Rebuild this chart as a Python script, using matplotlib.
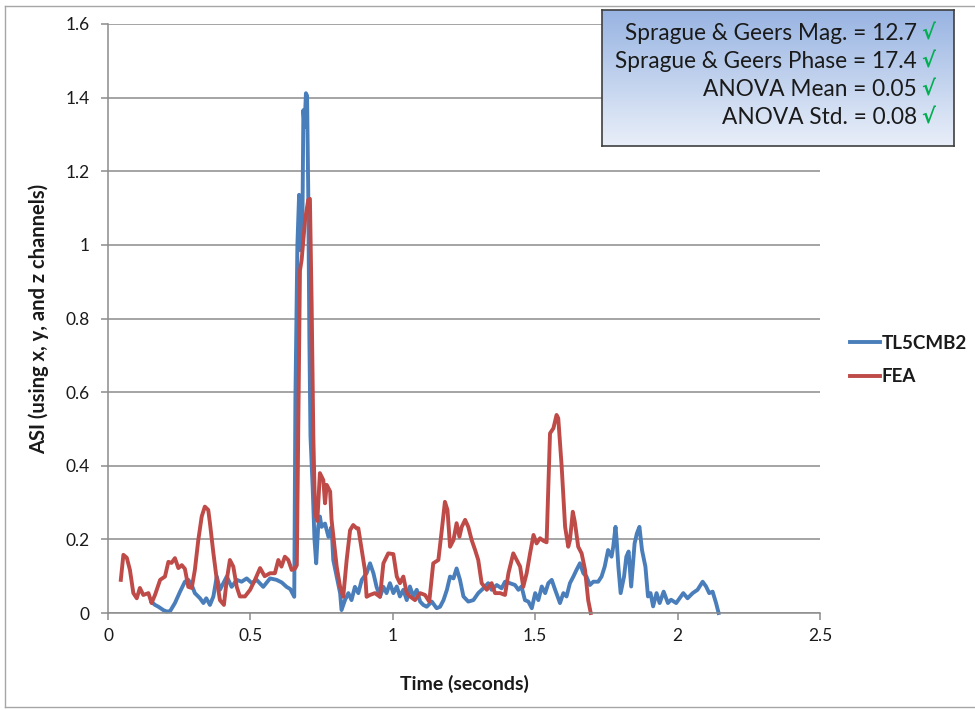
import numpy as np
import matplotlib
matplotlib.use("Agg")
import matplotlib.pyplot as plt
from matplotlib.lines import Line2D

plt.rcParams['font.family'] = ['Lato', 'DejaVu Sans']

# Test signal (TL5CMB2) – time in seconds, ASI value
tl5_t = [0.153, 0.165, 0.177, 0.194, 0.206, 0.218, 0.235, 0.253, 0.27, 0.282, 0.294, 0.305,
         0.323, 0.335, 0.345, 0.358, 0.37, 0.382, 0.393, 0.405, 0.417, 0.434, 0.452, 0.469,
         0.487, 0.505, 0.522, 0.545, 0.569, 0.592, 0.61, 0.627, 0.64, 0.654, 0.658, 0.665,
         0.671, 0.677, 0.682, 0.686, 0.69, 0.695, 0.699, 0.703, 0.707, 0.711, 0.719, 0.725,
         0.731, 0.738, 0.744, 0.75, 0.762, 0.774, 0.785, 0.791, 0.803, 0.815, 0.82, 0.832,
         0.844, 0.855, 0.867, 0.879, 0.891, 0.908, 0.92, 0.932, 0.943, 0.955, 0.967, 0.978,
         0.99, 1.002, 1.014, 1.025, 1.037, 1.049, 1.06, 1.072, 1.084, 1.096, 1.107, 1.119,
         1.137, 1.154, 1.166, 1.178, 1.19, 1.201, 1.213, 1.224, 1.236, 1.248, 1.265, 1.283,
         1.3, 1.318, 1.335, 1.347, 1.365, 1.382, 1.394, 1.411, 1.429, 1.441, 1.452, 1.464,
         1.476, 1.488, 1.5, 1.511, 1.523, 1.535, 1.546, 1.558, 1.57, 1.587, 1.599, 1.61,
         1.622, 1.634, 1.645, 1.657, 1.669, 1.68, 1.692, 1.704, 1.721, 1.733, 1.744, 1.756,
         1.768, 1.774, 1.782, 1.786, 1.792, 1.8, 1.812, 1.82, 1.828, 1.837, 1.849, 1.857,
         1.866, 1.875, 1.887, 1.896, 1.905, 1.914, 1.926, 1.937, 1.951, 1.966, 1.977, 1.995,
         2.007, 2.02, 2.035, 2.053, 2.07, 2.088, 2.1, 2.111, 2.123, 2.135, 2.144]
tl5_v = [0.03, 0.022, 0.017, 0.008, 0.004, 0.005, 0.027, 0.058, 0.085, 0.09, 0.076, 0.054,
         0.04, 0.027, 0.04, 0.022, 0.045, 0.099, 0.063, 0.081, 0.099, 0.071, 0.09, 0.085,
         0.094, 0.081, 0.09, 0.071, 0.094, 0.09, 0.083, 0.071, 0.065, 0.044, 0.58, 1.0,
         1.136, 0.985, 1.0, 1.366, 1.32, 1.412, 1.405, 1.15, 0.75, 0.48, 0.334, 0.2,
         0.135, 0.234, 0.262, 0.234, 0.243, 0.207, 0.234, 0.144, 0.099, 0.054, 0.008, 0.035,
         0.054, 0.035, 0.071, 0.054, 0.09, 0.108, 0.135, 0.108, 0.071, 0.044, 0.071, 0.054,
         0.081, 0.054, 0.072, 0.045, 0.063, 0.035, 0.072, 0.045, 0.063, 0.031, 0.022, 0.017,
         0.031, 0.013, 0.017, 0.035, 0.063, 0.099, 0.094, 0.121, 0.09, 0.045, 0.031, 0.035,
         0.054, 0.067, 0.081, 0.063, 0.076, 0.067, 0.085, 0.081, 0.076, 0.063, 0.072, 0.035,
         0.031, 0.013, 0.054, 0.035, 0.072, 0.054, 0.081, 0.09, 0.063, 0.027, 0.054, 0.045,
         0.081, 0.099, 0.117, 0.135, 0.108, 0.099, 0.076, 0.085, 0.085, 0.099, 0.126, 0.171,
         0.153, 0.18, 0.234, 0.198, 0.126, 0.054, 0.099, 0.153, 0.167, 0.072, 0.189, 0.216,
         0.234, 0.171, 0.126, 0.045, 0.054, 0.018, 0.054, 0.027, 0.058, 0.027, 0.036, 0.027,
         0.04, 0.054, 0.04, 0.054, 0.063, 0.085, 0.072, 0.054, 0.058, 0.027, 0.0]

# Simulation (FEA)
fea_t = [0.045, 0.054, 0.066, 0.077, 0.089, 0.101, 0.112, 0.124, 0.142, 0.153, 0.165, 0.183,
         0.2, 0.212, 0.223, 0.235, 0.247, 0.259, 0.27, 0.282, 0.294, 0.305, 0.317, 0.329,
         0.34, 0.352, 0.358, 0.37, 0.382, 0.393, 0.407, 0.417, 0.428, 0.44, 0.452, 0.463,
         0.481, 0.499, 0.516, 0.534, 0.55, 0.569, 0.586, 0.598, 0.609, 0.621, 0.633, 0.645,
         0.657, 0.663, 0.674, 0.68, 0.692, 0.703, 0.709, 0.715, 0.721, 0.727, 0.735, 0.744,
         0.756, 0.762, 0.768, 0.78, 0.785, 0.803, 0.815, 0.826, 0.838, 0.85, 0.861, 0.873,
         0.879, 0.891, 0.902, 0.908, 0.92, 0.937, 0.955, 0.967, 0.984, 1.002, 1.014, 1.025,
         1.037, 1.049, 1.06, 1.078, 1.096, 1.113, 1.128, 1.142, 1.16, 1.172, 1.183, 1.192,
         1.201, 1.213, 1.224, 1.234, 1.242, 1.254, 1.265, 1.277, 1.289, 1.3, 1.312, 1.33,
         1.347, 1.359, 1.377, 1.394, 1.406, 1.423, 1.435, 1.447, 1.458, 1.47, 1.482, 1.494,
         1.505, 1.517, 1.529, 1.54, 1.552, 1.564, 1.575, 1.581, 1.593, 1.605, 1.616, 1.622,
         1.632, 1.639, 1.651, 1.663, 1.675, 1.686, 1.695]
fea_v = [0.09, 0.158, 0.15, 0.117, 0.054, 0.04, 0.068, 0.049, 0.054, 0.027, 0.049, 0.09,
         0.099, 0.139, 0.136, 0.149, 0.122, 0.13, 0.12, 0.071, 0.068, 0.117, 0.198, 0.262,
         0.289, 0.28, 0.244, 0.163, 0.09, 0.035, 0.022, 0.09, 0.144, 0.126, 0.071, 0.045,
         0.045, 0.063, 0.09, 0.122, 0.1, 0.108, 0.108, 0.144, 0.126, 0.153, 0.144, 0.117,
         0.121, 0.13, 0.93, 0.96, 1.068, 1.122, 1.125, 0.84, 0.479, 0.27, 0.25, 0.38,
         0.361, 0.298, 0.348, 0.33, 0.253, 0.126, 0.071, 0.044, 0.144, 0.225, 0.239, 0.23,
         0.23, 0.171, 0.117, 0.044, 0.049, 0.054, 0.044, 0.135, 0.162, 0.16, 0.099, 0.081,
         0.099, 0.054, 0.045, 0.035, 0.054, 0.049, 0.031, 0.135, 0.144, 0.225, 0.302, 0.28,
         0.18, 0.198, 0.244, 0.207, 0.234, 0.253, 0.234, 0.198, 0.171, 0.144, 0.081, 0.063,
         0.081, 0.054, 0.054, 0.049, 0.108, 0.162, 0.144, 0.126, 0.071, 0.108, 0.162, 0.212,
         0.189, 0.203, 0.196, 0.192, 0.488, 0.502, 0.538, 0.529, 0.397, 0.234, 0.18, 0.198,
         0.275, 0.248, 0.18, 0.162, 0.117, 0.035, 0.0]

series_names = ["TL5CMB2", "FEA"]
series_colors = ["#4a7ebb", "#be4b48"]

y_ticks = [0, 0.2, 0.4, 0.6, 0.8, 1.0, 1.2, 1.4, 1.6]
y_tick_labels = ["0", "0.2", "0.4", "0.6", "0.8", "1", "1.2", "1.4", "1.6"]
x_ticks = [0, 0.5, 1.0, 1.5, 2.0, 2.5]
x_tick_labels = ["0", "0.5", "1", "1.5", "2", "2.5"]

metric_lines = ["Sprague & Geers Mag. = 12.7",
                "Sprague & Geers Phase = 17.4",
                "ANOVA Mean = 0.05",
                "ANOVA Std. = 0.08"]

W, H = 975, 710
fig = plt.figure(figsize=(W / 100, H / 100), dpi=100)
fig.patch.set_facecolor("white")

# outer chart frame
frame_col = "#a6a6a6"
fig.add_artist(Line2D([5 / W, 1.0], [1 - 6 / H, 1 - 6 / H], color=frame_col, lw=1.0))
fig.add_artist(Line2D([5 / W, 5 / W], [1 - 6 / H, 1 - 707 / H], color=frame_col, lw=1.0))
fig.add_artist(Line2D([5 / W, 1.0], [1 - 707 / H, 1 - 707 / H], color=frame_col, lw=1.0))

ax = fig.add_axes([108 / W, 1 - 613 / H, (820 - 108) / W, (613 - 24) / H])
ax.set_xlim(0, 2.5)
ax.set_ylim(0, 1.6)

grid_col = "#8c8c8c"
ax.yaxis.grid(True, color=grid_col, lw=1.1)
ax.set_axisbelow(True)
for s in ["top", "right"]:
    ax.spines[s].set_visible(False)
for s in ["left", "bottom"]:
    ax.spines[s].set_color(grid_col)
    ax.spines[s].set_linewidth(1.1)

ax.set_yticks(y_ticks)
ax.set_yticklabels(y_tick_labels)
ax.set_xticks(x_ticks)
ax.set_xticklabels(x_tick_labels)
ax.tick_params(axis="both", colors=grid_col, length=5, width=1.1, labelsize=12.5,
               labelcolor="#1a1a1a")
ax.tick_params(axis="y", pad=8)
ax.tick_params(axis="x", pad=6)

l1, = ax.plot(tl5_t, tl5_v, color=series_colors[0], lw=2.8, solid_joinstyle="round",
              label=series_names[0], clip_on=False)
l2, = ax.plot(fea_t, fea_v, color=series_colors[1], lw=2.8, solid_joinstyle="round",
              label=series_names[1], clip_on=False)

ax.set_xlabel("Time (seconds)", fontsize=14, fontweight="bold", color="#1a1a1a", labelpad=22)
ax.set_ylabel("ASI (using x, y, and z channels)", fontsize=14.5, fontweight="bold",
              color="#1a1a1a", labelpad=12)

leg = fig.legend(handles=[l1, l2], loc="center left", bbox_to_anchor=(850 / W, 1 - 360 / H),
                 frameon=False, fontsize=13.5, handlelength=1.6, handletextpad=0.1,
                 labelspacing=0.9, borderpad=0, borderaxespad=0)
for t in leg.get_texts():
    t.set_fontweight("bold")
    t.set_color("#1a1a1a")

# metrics box with vertical blue gradient
bx0, bx1, by0, by1 = 602, 954, 10, 146
bax = fig.add_axes([bx0 / W, 1 - by1 / H, (bx1 - bx0) / W, (by1 - by0) / H])
top_c = np.array(matplotlib.colors.to_rgb("#98b4e2"))
bot_c = np.array(matplotlib.colors.to_rgb("#e9eff9"))
g = np.linspace(0, 1, 256)[:, None]
grad = top_c[None, None, :] * (1 - g[..., None]) + bot_c[None, None, :] * g[..., None]
grad = np.repeat(grad, 2, axis=1)
bax.imshow(grad, aspect="auto", extent=[0, 1, 0, 1], origin="upper")
bax.set_xlim(0, 1)
bax.set_ylim(0, 1)
bax.set_xticks([])
bax.set_yticks([])
for s in bax.spines.values():
    s.set_color("#3f3f3f")
    s.set_linewidth(1.2)

line_y = [34, 62, 90, 118]
for txt, yy in zip(metric_lines, line_y):
    yf = (by1 - yy) / (by1 - by0)
    bax.text((917 - bx0) / (bx1 - bx0), yf, txt, ha="right", va="center",
             fontsize=16.3, color="#1a1a1a")
    bax.text((921 - bx0) / (bx1 - bx0), yf, "√", ha="left", va="center",
             fontsize=15, fontweight="bold", color="#00b050", family=["DejaVu Sans"])

fig.savefig("out.png", dpi=100, facecolor="white")
